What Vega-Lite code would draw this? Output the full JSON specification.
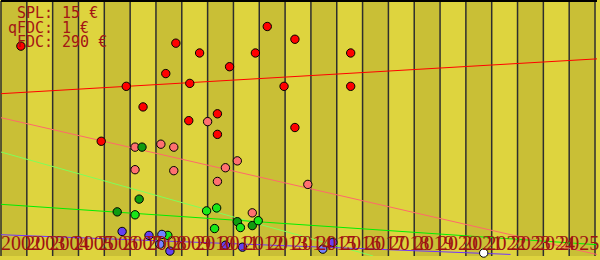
{
  "$schema": "https://vega.github.io/schema/vega-lite/v6.json",
  "width": 600,
  "height": 260,
  "autosize": {"type": "fit", "contains": "padding"},
  "padding": 0,
  "background": "#ded43e",
  "config": {"view": {"stroke": null}},
  "datasets": {
    "bands": [
      {"start": 2002, "end": 2003, "band": "A"}, {"start": 2003, "end": 2004, "band": "B"},
      {"start": 2004, "end": 2005, "band": "A"}, {"start": 2005, "end": 2006, "band": "B"},
      {"start": 2006, "end": 2007, "band": "A"}, {"start": 2007, "end": 2008, "band": "B"},
      {"start": 2008, "end": 2009, "band": "A"}, {"start": 2009, "end": 2010, "band": "B"},
      {"start": 2010, "end": 2011, "band": "A"}, {"start": 2011, "end": 2012, "band": "B"},
      {"start": 2012, "end": 2013, "band": "A"}, {"start": 2013, "end": 2014, "band": "B"},
      {"start": 2014, "end": 2015, "band": "A"}, {"start": 2015, "end": 2016, "band": "B"},
      {"start": 2016, "end": 2017, "band": "A"}, {"start": 2017, "end": 2018, "band": "B"},
      {"start": 2018, "end": 2019, "band": "A"}, {"start": 2019, "end": 2020, "band": "B"},
      {"start": 2020, "end": 2021, "band": "A"}, {"start": 2021, "end": 2022, "band": "B"},
      {"start": 2022, "end": 2023, "band": "A"}, {"start": 2023, "end": 2024, "band": "B"},
      {"start": 2024, "end": 2025, "band": "A"}
    ],
    "years": [
      {"year": 2002}, {"year": 2003}, {"year": 2004}, {"year": 2005}, {"year": 2006}, {"year": 2007},
      {"year": 2008}, {"year": 2009}, {"year": 2010}, {"year": 2011}, {"year": 2012}, {"year": 2013},
      {"year": 2014}, {"year": 2015}, {"year": 2016}, {"year": 2017}, {"year": 2018}, {"year": 2019},
      {"year": 2020}, {"year": 2021}, {"year": 2022}, {"year": 2023}, {"year": 2024}, {"year": 2025}
    ],
    "trends": [
      {"series": "red", "year": 2002, "value": 165.5}, {"series": "red", "year": 2025.077, "value": 201},
      {"series": "salmon", "year": 2002, "value": 141}, {"series": "salmon", "year": 2025.077, "value": 1.5},
      {"series": "lightgreen", "year": 2002, "value": 106}, {"series": "lightgreen", "year": 2016.41, "value": 0},
      {"series": "green", "year": 2002, "value": 52.7}, {"series": "green", "year": 2025.077, "value": 11.5},
      {"series": "blue", "year": 2002, "value": 21.7}, {"series": "blue", "year": 2021.73, "value": 1.6}
    ],
    "points": [
      {"series": "red", "year": 2002.77, "value": 214},
      {"series": "red", "year": 2008.77, "value": 217},
      {"series": "red", "year": 2009.69, "value": 207},
      {"series": "red", "year": 2012.31, "value": 234},
      {"series": "red", "year": 2013.38, "value": 221},
      {"series": "red", "year": 2011.85, "value": 207},
      {"series": "red", "year": 2015.54, "value": 207},
      {"series": "red", "year": 2008.38, "value": 186},
      {"series": "red", "year": 2010.85, "value": 193},
      {"series": "red", "year": 2009.31, "value": 176},
      {"series": "red", "year": 2006.85, "value": 173},
      {"series": "red", "year": 2012.96, "value": 173},
      {"series": "red", "year": 2015.54, "value": 173},
      {"series": "red", "year": 2007.5, "value": 152},
      {"series": "red", "year": 2010.38, "value": 145},
      {"series": "red", "year": 2009.27, "value": 138},
      {"series": "red", "year": 2013.38, "value": 131},
      {"series": "red", "year": 2010.38, "value": 124},
      {"series": "red", "year": 2005.88, "value": 117},
      {"series": "salmon", "year": 2010.0, "value": 137},
      {"series": "salmon", "year": 2007.19, "value": 111},
      {"series": "salmon", "year": 2008.19, "value": 114},
      {"series": "salmon", "year": 2008.69, "value": 111},
      {"series": "salmon", "year": 2007.19, "value": 88},
      {"series": "salmon", "year": 2008.69, "value": 87},
      {"series": "salmon", "year": 2011.15, "value": 97},
      {"series": "salmon", "year": 2010.69, "value": 90},
      {"series": "salmon", "year": 2010.38, "value": 76},
      {"series": "salmon", "year": 2013.88, "value": 73},
      {"series": "salmon", "year": 2011.73, "value": 44},
      {"series": "darkgreen", "year": 2007.46, "value": 111},
      {"series": "darkgreen", "year": 2007.35, "value": 58},
      {"series": "darkgreen", "year": 2006.5, "value": 45},
      {"series": "darkgreen", "year": 2011.15, "value": 35},
      {"series": "darkgreen", "year": 2011.73, "value": 31},
      {"series": "green", "year": 2007.19, "value": 42},
      {"series": "green", "year": 2008.46, "value": 21},
      {"series": "green", "year": 2009.96, "value": 46},
      {"series": "green", "year": 2010.35, "value": 49},
      {"series": "green", "year": 2010.27, "value": 28},
      {"series": "green", "year": 2011.27, "value": 29},
      {"series": "green", "year": 2011.96, "value": 36},
      {"series": "blue", "year": 2006.69, "value": 25},
      {"series": "blue", "year": 2007.73, "value": 21},
      {"series": "blue", "year": 2008.54, "value": 5},
      {"series": "blue", "year": 2010.69, "value": 11},
      {"series": "blue", "year": 2011.35, "value": 9},
      {"series": "blue", "year": 2014.85, "value": 14},
      {"series": "lightblue", "year": 2008.23, "value": 22},
      {"series": "lightblue", "year": 2008.15, "value": 12},
      {"series": "lightblue", "year": 2014.46, "value": 7},
      {"series": "white", "year": 2020.69, "value": 3}
    ],
    "notes": [
      {"key": "SPL", "rest": ": 15 €", "value": 242.5},
      {"key": "qFDC", "rest": ": 1 €", "value": 227.8},
      {"key": "FDC", "rest": ": 290 €", "value": 213.3}
    ]
  },
  "resolve": {"scale": {"x": "independent", "color": "independent"}},
  "layer": [
    {
      "data": {"name": "bands"},
      "mark": {"type": "rect"},
      "encoding": {
        "x": {"field": "start", "type": "quantitative", "scale": {"domain": [2002, 2025.077], "nice": false, "zero": false}, "axis": null},
        "x2": {"field": "end"},
        "y": {"datum": 0, "type": "quantitative", "scale": {"domain": [0, 260], "nice": false}, "axis": null},
        "y2": {"datum": 260},
        "color": {"field": "band", "type": "nominal", "scale": {"domain": ["A", "B"], "range": ["#c9bf36", "#ded43e"]}, "legend": null}
      }
    },
    {
      "data": {"name": "years"},
      "mark": {"type": "rule", "color": "#2e2e2e", "strokeWidth": 1.5},
      "encoding": {
        "x": {"field": "year", "type": "quantitative", "scale": {"domain": [2002, 2025.077], "nice": false, "zero": false}, "axis": null}
      }
    },
    {
      "data": {"values": [{"a": 1}]},
      "mark": {"type": "rule", "color": "#000000", "strokeWidth": 2},
      "encoding": {
        "y": {"datum": 260, "type": "quantitative", "scale": {"domain": [0, 260], "nice": false}, "axis": null}
      }
    },
    {
      "data": {"name": "trends"},
      "mark": {"type": "line", "strokeWidth": 1, "clip": true},
      "encoding": {
        "x": {"field": "year", "type": "quantitative", "scale": {"domain": [2002, 2025.077], "nice": false, "zero": false}, "axis": null},
        "y": {"field": "value", "type": "quantitative", "scale": {"domain": [0, 260], "nice": false}, "axis": null},
        "color": {"field": "series", "type": "nominal", "scale": {"domain": ["red", "salmon", "lightgreen", "green", "blue"], "range": ["#ff0000", "#ff6a6a", "#7dff5a", "#00ee00", "#7034ff"]}, "legend": null}
      }
    },
    {
      "data": {"name": "points"},
      "mark": {"type": "point", "shape": "circle", "filled": true, "size": 70, "stroke": "#000000", "strokeWidth": 1, "opacity": 1},
      "encoding": {
        "x": {"field": "year", "type": "quantitative", "scale": {"domain": [2002, 2025.077], "nice": false, "zero": false}, "axis": null},
        "y": {"field": "value", "type": "quantitative", "scale": {"domain": [0, 260], "nice": false}, "axis": null},
        "fill": {"field": "series", "type": "nominal", "scale": {"domain": ["red", "salmon", "darkgreen", "green", "blue", "lightblue", "white"], "range": ["#ff0000", "#ff7070", "#109c10", "#18e818", "#6440f0", "#7482ff", "#ffffff"]}, "legend": null}
      }
    },
    {
      "data": {"name": "years"},
      "mark": {"type": "text", "align": "left", "baseline": "alphabetic", "font": "Liberation Serif", "fontSize": 20, "color": "#9e1212"},
      "encoding": {
        "x": {"field": "year", "type": "quantitative", "scale": {"domain": [2002, 2026.55], "nice": false, "zero": false}, "axis": null},
        "y": {"datum": 6.5, "type": "quantitative", "scale": {"domain": [0, 260], "nice": false}, "axis": null},
        "text": {"field": "year", "type": "nominal"}
      }
    },
    {
      "data": {"name": "notes"},
      "mark": {"type": "text", "align": "right", "baseline": "alphabetic", "font": "DejaVu Sans Mono", "fontSize": 15, "color": "#a31515", "dx": 43},
      "encoding": {
        "x": {"datum": 2002, "type": "quantitative", "scale": {"domain": [2002, 2025.077], "nice": false, "zero": false}, "axis": null},
        "y": {"field": "value", "type": "quantitative", "scale": {"domain": [0, 260], "nice": false}, "axis": null},
        "text": {"field": "key", "type": "nominal"}
      }
    },
    {
      "data": {"name": "notes"},
      "mark": {"type": "text", "align": "left", "baseline": "alphabetic", "font": "DejaVu Sans Mono", "fontSize": 15, "color": "#a31515", "dx": 43},
      "encoding": {
        "x": {"datum": 2002, "type": "quantitative", "scale": {"domain": [2002, 2025.077], "nice": false, "zero": false}, "axis": null},
        "y": {"field": "value", "type": "quantitative", "scale": {"domain": [0, 260], "nice": false}, "axis": null},
        "text": {"field": "rest", "type": "nominal"}
      }
    }
  ]
}
